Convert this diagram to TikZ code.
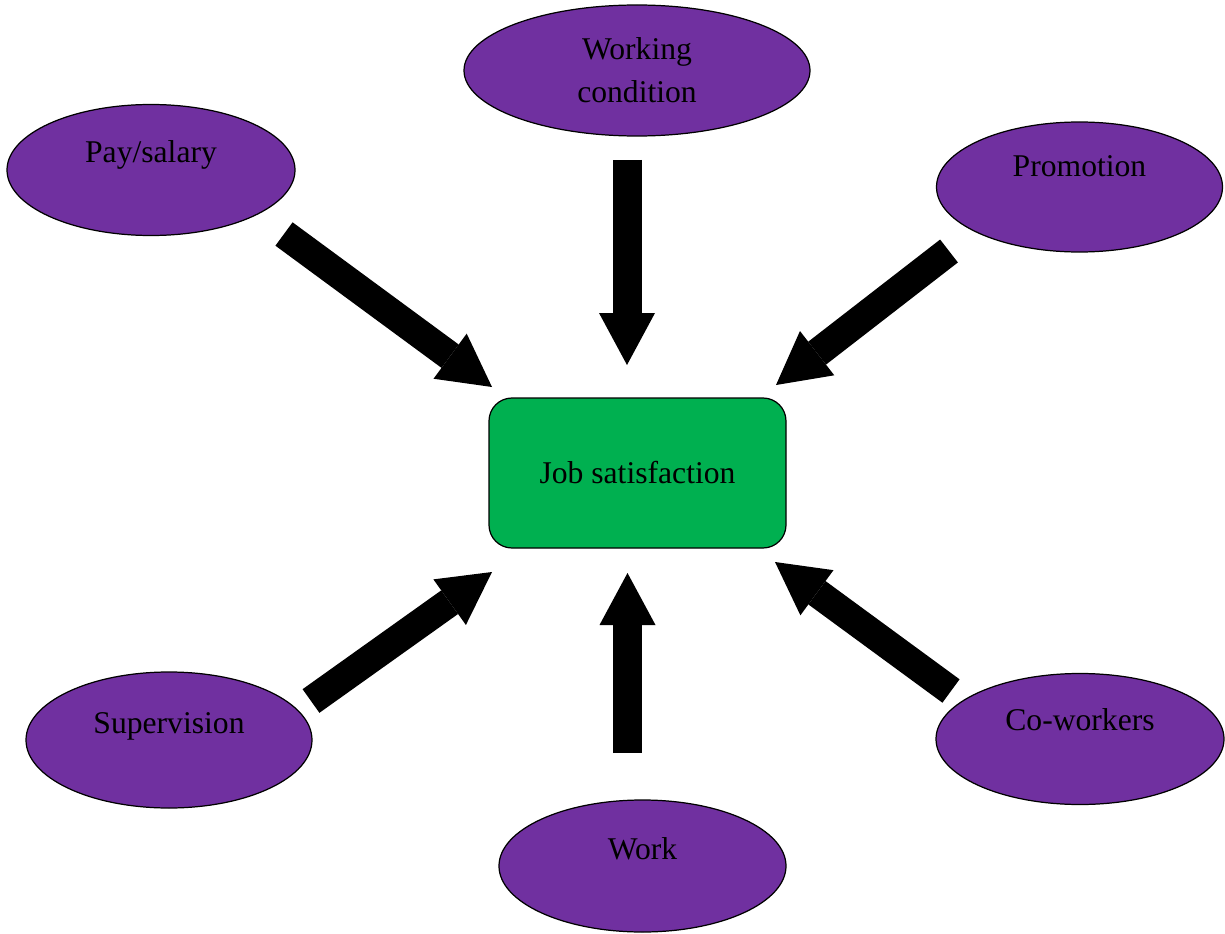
\documentclass[tikz,border=0pt]{standalone}
\usepackage{fontspec}
\setmainfont{Liberation Serif}
\usetikzlibrary{arrows.meta, shapes.geometric}

\begin{document}
\begin{tikzpicture}[
    factor/.style={ellipse, draw=black, line width=0.7pt, fill=factorColour, inner sep=0pt},
    factortext/.style={font=\fontsize{18}{24.5}\selectfont, align=center, inner sep=0pt},
    outcome/.style={rectangle, rounded corners=0.46cm, draw=black, line width=0.7pt, fill=outcomeColour,
        minimum width=5.94cm, minimum height=3cm, font=\fontsize{18}{24}\selectfont},
    bigarrow/.style={line width=0.58cm, -{Triangle[width=1.12cm, length=1.04cm, line width=0pt]}}
]
    \definecolor{factorColour}{HTML}{7030A0}
    \definecolor{outcomeColour}{HTML}{00B050}

    % Fix the page size
    \useasboundingbox (0,0) rectangle (24.5,-18.68);

    % Centre box
    \node[outcome] (job) at (12.75,-9.46) {Job satisfaction};

    % Factors round it
    \node[factor, minimum width=6.92cm, minimum height=2.62cm,
        label={[factortext]center:Working\\condition}] (cond) at (12.74,-1.41) {};
    \node[factor, minimum width=5.76cm, minimum height=2.62cm,
        label={[factortext, yshift=0.30cm]center:Pay/salary}] (pay) at (3.02,-3.40) {};
    \node[factor, minimum width=5.72cm, minimum height=2.6cm,
        label={[factortext, yshift=0.42cm]center:Promotion}] (promo) at (21.59,-3.74) {};
    \node[factor, minimum width=5.72cm, minimum height=2.72cm,
        label={[factortext, yshift=0.28cm]center:Supervision}] (superv) at (3.38,-14.80) {};
    \node[factor, minimum width=5.74cm, minimum height=2.64cm,
        label={[factortext, yshift=0.34cm]center:Work}] (work) at (12.85,-17.32) {};
    \node[factor, minimum width=5.76cm, minimum height=2.62cm,
        label={[factortext, yshift=0.38cm]center:Co-workers}] (cowork) at (21.60,-14.78) {};

    % Arrow ends
    \coordinate (cond-out) at (12.54,-3.20);
    \coordinate (job-n) at (12.54,-7.30);
    \coordinate (pay-out) at (5.68,-4.68);
    \coordinate (job-nw) at (9.84,-7.74);
    \coordinate (promo-out) at (18.98,-5.02);
    \coordinate (job-ne) at (15.52,-7.70);
    \coordinate (superv-out) at (6.22,-14.02);
    \coordinate (job-sw) at (9.84,-11.44);
    \coordinate (work-out) at (12.55,-15.06);
    \coordinate (job-s) at (12.55,-11.46);
    \coordinate (cowork-out) at (19.02,-13.82);
    \coordinate (job-se) at (15.50,-11.24);

    % Draw arrows
    \draw[bigarrow] (cond-out) -- (job-n);
    \draw[bigarrow] (pay-out) -- (job-nw);
    \draw[bigarrow] (promo-out) -- (job-ne);
    \draw[bigarrow] (superv-out) -- (job-sw);
    \draw[bigarrow] (work-out) -- (job-s);
    \draw[bigarrow] (cowork-out) -- (job-se);

\end{tikzpicture}
\end{document}
